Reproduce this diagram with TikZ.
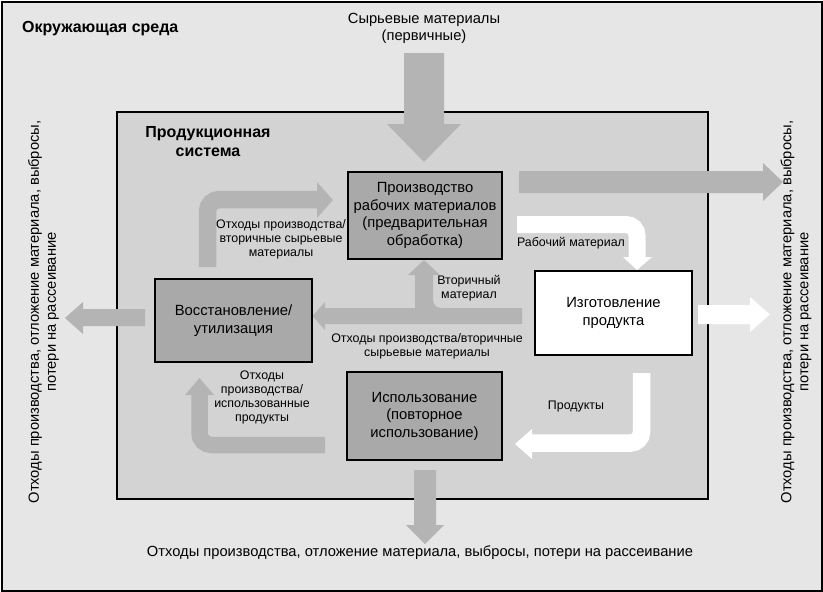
\documentclass[tikz,border=0pt]{standalone}
\usepackage{fontspec}
\setmainfont{Liberation Sans}
\definecolor{envbg}{HTML}{E6E6E6}
\definecolor{sysbg}{HTML}{D3D3D3}
\definecolor{boxgrey}{HTML}{A9A9A9}
\definecolor{arrowgrey}{HTML}{B4B4B4}
\begin{document}
\begin{tikzpicture}[x=1pt,y=-1pt,
  box/.style={draw=black, line width=1.6pt, fill=boxgrey, align=center, inner sep=0pt,
    font=\fontsize{14.8}{17.5}\selectfont},
  lbl/.style={font=\fontsize{12.4}{14}\selectfont, align=center, inner sep=0pt},
  bigtxt/.style={font=\fontsize{14.7}{17}\selectfont, align=center, inner sep=0pt},
  ttl/.style={font=\bfseries\fontsize{16}{19}\selectfont, align=center, inner sep=0pt},
  gfill/.style={fill=arrowgrey},
  wfill/.style={fill=white},
  gbend/.style={draw=arrowgrey, line width=#1, rounded corners=12pt},
  wbend/.style={draw=white, line width=#1, rounded corners=11pt}]
\useasboundingbox (0,0) rectangle (823,592);
% environment
\draw[fill=envbg, line width=2pt] (1.5,1.5) rectangle (821.5,590.5);
% production system
\draw[fill=sysbg, line width=2pt] (117,112) rectangle (708,499);

% ---- arrows ----
% raw materials in
\fill[gfill] (404,53) -- (444,53) -- (444,124) -- (461,124) -- (424,162) -- (387,124) -- (404,124) -- cycle;
% upper right out
\fill[gfill] (519,171) -- (763,171) -- (763,163) -- (783,182) -- (763,201) -- (763,193) -- (519,193) -- cycle;
% bottom out
\fill[gfill] (414,470) -- (436,470) -- (436,525) -- (444,525) -- (425,544) -- (406,525) -- (414,525) -- cycle;
% middle leftwards to recovery
\fill[gfill] (522,308) -- (325,308) -- (325,302) -- (312.5,316) -- (325,330) -- (325,324) -- (522,324) -- cycle;
% secondary material up
\fill[gfill] (415,308) -- (415,275) -- (408,275) -- (424,260) -- (440,275) -- (433,275) -- (433,308) -- cycle;
\fill[gfill] (433,299) .. controls (433,305) and (436,308) .. (442,308) -- (433,308) -- cycle;
% left out
\fill[gfill] (145,309) -- (83,309) -- (83,302) -- (65,318) -- (83,334) -- (83,326) -- (145,326) -- cycle;
% top-left bent
\draw[gbend=17.5pt] (207.5,267) -- (207.5,199.5) -- (318,199.5);
\fill[gfill] (317,182) -- (333,200) -- (317,218) -- cycle;
% bottom-left bent
\draw[gbend=16.5pt] (325,445) -- (199.5,445) -- (199.5,394);
\fill[gfill] (185,395) -- (199.5,378) -- (214,395) -- cycle;
% working material (white)
\draw[wbend=17pt] (517,224.5) -- (637,224.5) -- (637,258);
\fill[wfill] (623,257) -- (637,270) -- (652,257) -- cycle;
% white right out
\fill[wfill] (698,305) -- (750,305) -- (750,297) -- (770,314.5) -- (750,332) -- (750,324) -- (698,324) -- cycle;
% products (white)
\draw[wbend=17.5pt] (641.5,373) -- (641.5,443) -- (531,443);
\fill[wfill] (532,429) -- (515,444) -- (532,459) -- cycle;

% ---- boxes ----
\node[box, minimum width=154pt, minimum height=87pt] (prod) at (425,215.5)
  {Производство\\рабочих материалов\\(предварительная\\обработка)};
\node[box, minimum width=157pt, minimum height=83pt] (rest) at (233.5,320.5)
  {Восстановление/\\утилизация};
\node[box, minimum width=155pt, minimum height=88pt] (use) at (424.5,416)
  {Использование\\(повторное\\использование)};
\node[box, fill=white, minimum width=157pt, minimum height=84pt] (make) at (613.5,313)
  {Изготовление\\продукта};

% ---- titles and texts ----
\node[ttl, anchor=west] (env) at (22,29) {Окружающая среда};
\node[ttl] (sys) at (208,141.5) {Продукционная\\система};
\node[bigtxt] (raw) at (424,28) {Сырьевые материалы\\(первичные)};
\node[bigtxt] (bot) at (420,553) {Отходы производства, отложение материала, выбросы, потери на рассеивание};
\node[bigtxt, rotate=90] (lefttxt) at (43.5,312) {Отходы производства, отложение материала, выбросы,\\потери на рассеивание};
\node[bigtxt, rotate=90] (righttxt) at (796,312) {Отходы производства, отложение материала, выбросы,\\потери на рассеивание};

% ---- arrow labels ----
\node[lbl] (l1) at (281,239) {Отходы производства/\\вторичные сырьевые\\материалы};
\node[lbl] (l2) at (571,243) {Рабочий материал};
\node[lbl] (l3) at (469,288) {Вторичный\\материал};
\node[lbl] (l4) at (427,346) {Отходы производства/вторичные\\сырьевые материалы};
\node[lbl] (l5) at (262,397) {Отходы\\производства/\\использованные\\продукты};
\node[lbl] (l6) at (576,407) {Продукты};
\end{tikzpicture}
\end{document}
